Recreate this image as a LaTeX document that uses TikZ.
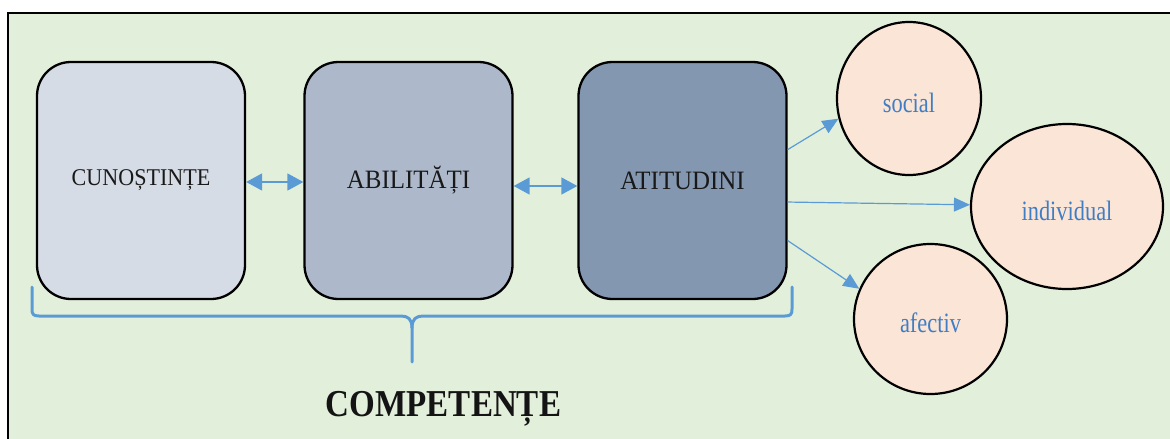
\documentclass[tikz,border=0pt]{standalone}
\usepackage{fontspec}
\setmainfont{Liberation Serif}
\usetikzlibrary{shapes.geometric,arrows.meta,calc}

\definecolor{panelgreen}{HTML}{E2EFDA}
\definecolor{boxlight}{HTML}{D6DCE5}
\definecolor{boxmid}{HTML}{ADB9CA}
\definecolor{boxdark}{HTML}{8497B0}
\definecolor{peach}{HTML}{FBE5D6}
\definecolor{linkblue}{HTML}{5B9BD5}
\definecolor{labelblue}{HTML}{3F7DC4}

\newcommand{\bubbletext}[1]{\raisebox{-4pt}[\height][\depth]{\scalebox{0.8}[1]{#1}}}

\tikzset{
  pillar/.style={draw=black, line width=2.3pt, rounded corners=34pt,
    minimum width=208pt, minimum height=237pt, inner sep=0pt, text=black!90},
  bubble/.style={ellipse, draw=black, line width=2.2pt, fill=peach, inner sep=0pt,
    text=labelblue, font=\fontsize{28}{28}\selectfont},
  twoway/.style={{Triangle[length=16pt,width=17pt]}-{Triangle[length=16pt,width=17pt]},
    draw=linkblue, line width=1.6pt},
  oneway/.style={-{Triangle[length=16pt,width=14pt]}, draw=linkblue, line width=1.2pt},
  brace/.style={draw=linkblue, line width=3pt, line cap=round, line join=round}
}

\begin{document}
\begin{tikzpicture}[x=1pt,y=1pt]
  \useasboundingbox (0,0) rectangle (1170,-439);
  \fill[white] (0,0) rectangle (1170,-439);

  % panel with its frame
  \fill[panelgreen] (8,-13) rectangle (1172,-441);
  \draw[black, line width=2.5pt] (8,-441) -- (8,-13) -- (1172,-13);

  % the three components
  \node[pillar, fill=boxlight] (cuno) at (141,-180.5)
    {\fontsize{24}{24}\selectfont\scalebox{0.92}[1]{CUNOȘTINȚE}};
  \node[pillar, fill=boxmid] (abil) at (408.5,-180.5)
    {\fontsize{26.5}{26.5}\selectfont\scalebox{0.94}[1]{ABILITĂȚI}};
  \node[pillar, fill=boxdark] (atit) at (682.5,-180.5)
    {\fontsize{26.5}{26.5}\selectfont\scalebox{0.94}[1]{ATITUDINI}};

  % kinds of attitudes
  \node[bubble, minimum width=144pt, minimum height=153pt] (social) at (909,-98.5)
    {\bubbletext{social}};
  \node[bubble, minimum width=192pt, minimum height=165pt] (indiv) at (1067,-206.5)
    {\bubbletext{individual}};
  \node[bubble, minimum width=153pt, minimum height=150pt] (afect) at (930.5,-319)
    {\bubbletext{afectiv}};

  % links between components
  \draw[twoway] ([yshift=-1.5pt]cuno.east) -- ([yshift=-1.5pt]abil.west);
  \draw[twoway] ([yshift=-5.5pt]abil.east) -- ([yshift=-5.5pt]atit.west);

  % links from attitudes to their kinds
  \draw[oneway] ($(atit.north east)!0.371!(atit.south east)$) -- (social.196);
  \draw[oneway] ($(atit.north east)!0.59!(atit.south east)$) -- (indiv.179);
  \draw[oneway] ($(atit.north east)!0.751!(atit.south east)$) -- (afect.157);

  % brace grouping the components
  \coordinate (bl) at (32,-287);
  \coordinate (br) at (792,-287);
  \coordinate (tip) at (412,-362);
  \draw[brace] (bl) -- (32,-309) .. controls (32,-314) and (33,-316) .. (39,-316)
    -- (401,-316) .. controls (408,-316) and (412,-319) .. (412,-328) -- (tip);
  \draw[brace] (412,-328) .. controls (412,-319) and (416,-316) .. (423,-316)
    -- (785,-316) .. controls (791,-316) and (792,-314) .. (792,-309) -- (br);

  \node[anchor=base, font=\fontsize{38}{38}\selectfont\bfseries, text=black!92] (comp)
    at (443.5,-416) {\scalebox{0.87}[1]{COMPETENȚE}};
\end{tikzpicture}
\end{document}
